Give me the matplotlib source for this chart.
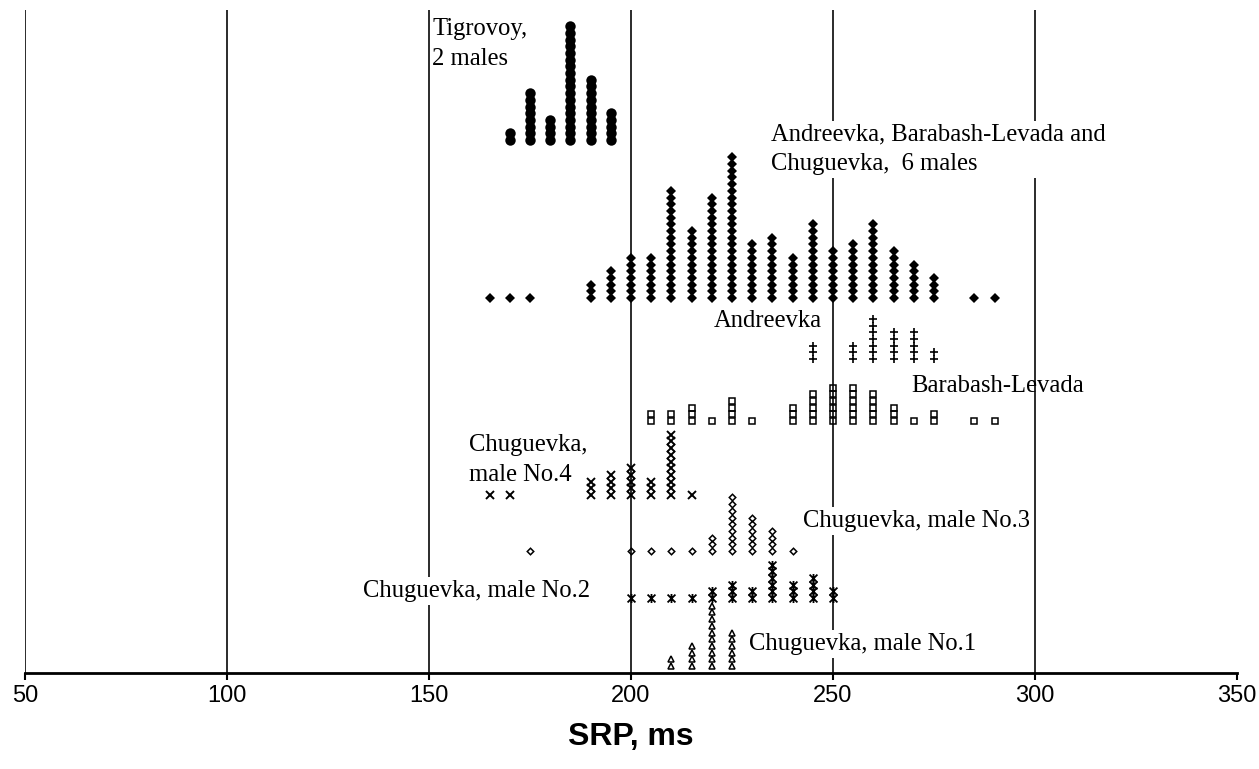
import matplotlib
matplotlib.use('Agg')
import matplotlib.pyplot as plt
from matplotlib.path import Path

# ---------------- data (SRP bin, ms  /  number of pulses) ----------------
tigrovoy_srp = [170, 175, 180, 185, 190, 195]
tigrovoy_n = [2, 8, 4, 18, 10, 5]

pooled_srp = [165, 170, 175, 190, 195, 200, 205, 210, 215, 220, 225, 230,
              235, 240, 245, 250, 255, 260, 265, 270, 275, 285, 290]
pooled_n = [1, 1, 1, 3, 5, 7, 7, 17, 11, 16, 22, 9,
            10, 7, 12, 8, 9, 12, 8, 6, 4, 1, 1]

andreevka_srp = [245, 255, 260, 265, 270, 275]
andreevka_n = [3, 3, 7, 5, 5, 2]

barabash_srp = [205, 210, 215, 220, 225, 230, 240, 245, 250, 255, 260, 265,
                270, 275, 285, 290]
barabash_n = [2, 2, 3, 1, 4, 1, 3, 5, 6, 6, 5, 3, 1, 2, 1, 1]

chug4_srp = [165, 170, 190, 195, 200, 205, 210, 215]
chug4_n = [1, 1, 3, 4, 5, 3, 10, 1]

chug3_srp = [175, 200, 205, 210, 215, 220, 225, 230, 235, 240]
chug3_n = [1, 1, 1, 1, 1, 3, 9, 6, 4, 1]

chug2_srp = [200, 205, 210, 215, 220, 225, 230, 235, 240, 245, 250]
chug2_n = [1, 1, 1, 1, 2, 3, 2, 6, 3, 4, 2]

chug1_srp = [210, 215, 220, 225]
chug1_n = [2, 4, 10, 6]

xticks = [50, 100, 150, 200, 250, 300, 350]
gridx = [50, 100, 150, 200, 250, 300]

# ---------------- layout ----------------
W, H = 1259, 769
fig = plt.figure(figsize=(W / 100, H / 100), dpi=100)
ax = fig.add_axes([25 / W, 96 / H, 1212 / W, 663 / H])
ax.set_xlim(50, 350)
ax.set_ylim(0, 663)

STEP = 6.7


def stack(xs, ns, base):
    px, py = [], []
    for x, n in zip(xs, ns):
        for k in range(n):
            px.append(x)
            py.append(base + STEP * k)
    return px, py


star = Path([(-1, -1), (1, 1), (-1, 1), (1, -1), (0, -1.15), (0, 1.15)],
            [Path.MOVETO, Path.LINETO] * 3)

K = 'black'
groups = [
    (tigrovoy_srp, tigrovoy_n, 533, dict(marker='o', ms=7.5, mfc=K, mec=K, mew=0)),
    (pooled_srp, pooled_n, 375, dict(marker='D', ms=5.2, mfc=K, mec=K, mew=0)),
    (andreevka_srp, andreevka_n, 314, dict(marker='+', ms=5.5, mec=K, mew=1.2)),
    (barabash_srp, barabash_n, 252, dict(marker='s', ms=4.3, mfc='none', mec=K, mew=1.1)),
    (chug4_srp, chug4_n, 178, dict(marker='x', ms=6.3, mec=K, mew=1.4)),
    (chug3_srp, chug3_n, 122, dict(marker='D', ms=3.3, mfc='none', mec=K, mew=1.1)),
    (chug2_srp, chug2_n, 75, dict(marker=star, ms=6.5, mfc='none', mec=K, mew=1.3)),
    (chug1_srp, chug1_n, 7, dict(marker='^', ms=5.0, mfc='none', mec=K, mew=1.1)),
]
for xs, ns, base, st in groups:
    px, py = stack(xs, ns, base)
    ax.plot(px, py, ls='none', zorder=3, clip_on=False, **st)

for gx in gridx:
    ax.axvline(gx, color='#1a1a1a', lw=1.3, zorder=1)

for s in ['left', 'right', 'top']:
    ax.spines[s].set_visible(False)
ax.spines['bottom'].set_linewidth(2.0)
ax.spines['bottom'].set_zorder(4)
ax.set_yticks([])
ax.set_xticks(xticks)
ax.set_xticklabels([str(t) for t in xticks], family='Liberation Sans', fontsize=17)
ax.tick_params(axis='x', direction='out', length=5, width=1.5, pad=4)

ax.set_xlabel('SRP, ms', family='Liberation Sans', fontsize=23, fontweight='bold')
ax.xaxis.set_label_coords(0.5, -0.074)


def px2x(p):
    return 50 + (p - 25) / 4.04


def px2y(p):
    return 673 - p


# (text, left px, baseline px of the LAST line, white box behind)
labels = [
    ("Tigrovoy,\n2 males", 432, 65, False),
    ("Andreevka, Barabash-Levada and\nChuguevka,  6 males", 771, 170, True),
    ("Andreevka", 714, 327, False),
    ("Barabash-Levada", 911, 392, False),
    ("Chuguevka,\nmale No.4", 469, 481, False),
    ("Chuguevka, male No.3", 803, 527, True),
    ("Chuguevka, male No.2", 363, 597, True),
    ("Chuguevka, male No.1", 749, 650, True),
]
for txt, lx, ly, boxed in labels:
    kw = {}
    if boxed:
        kw['bbox'] = dict(facecolor='white', edgecolor='none', pad=2)
    ax.text(px2x(lx), px2y(ly), txt, family='Liberation Serif', fontsize=17.7,
            ha='left', va='baseline', linespacing=1.45, zorder=5, **kw)

fig.savefig('out.png', dpi=100)
